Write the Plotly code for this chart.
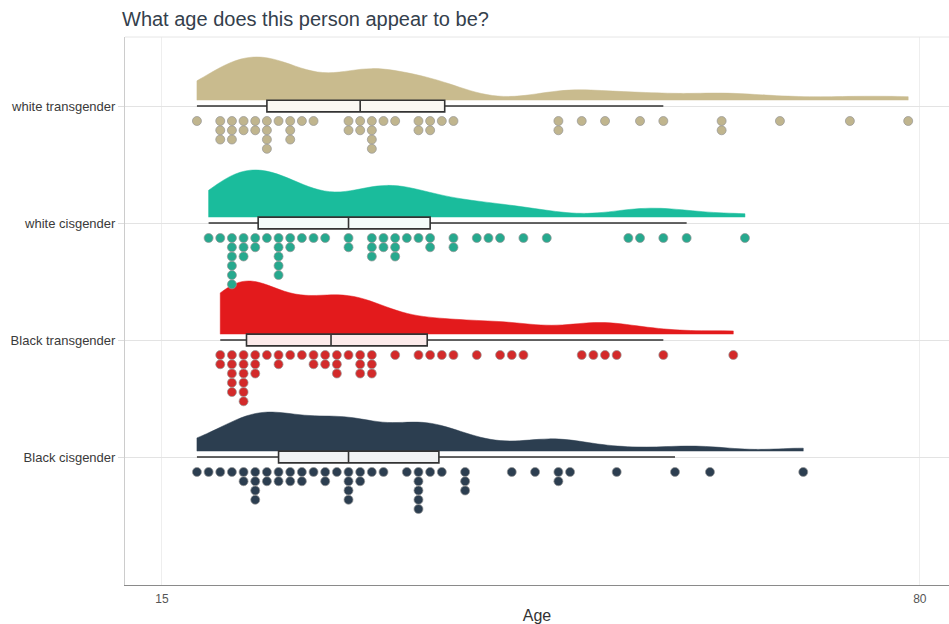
import numpy as np
import plotly.graph_objects as go

# Perceived-age responses (years), one entry per rating
white_transgender = [18, 20, 20, 20, 21, 21, 21, 22, 22, 23, 23, 24, 24, 24, 24, 25,
                     26, 26, 26, 27, 28, 31, 31, 32, 32, 33, 33, 33, 33, 34, 35,
                     37, 37, 38, 38, 39, 40, 49, 49, 51, 53, 56, 58, 63, 63, 68, 74, 79]
white_cisgender = [19, 20, 21, 21, 21, 21, 21, 21, 22, 22, 22, 23, 23, 24,
                   25, 25, 25, 25, 25, 26, 26, 27, 28, 29, 31, 31, 33, 33, 33,
                   34, 34, 35, 35, 35, 36, 37, 38, 38, 40, 40, 42, 43, 44, 46, 48,
                   55, 56, 58, 60, 65]
black_transgender = [20, 20, 21, 21, 21, 21, 21, 22, 22, 22, 22, 22, 22, 23, 23, 23,
                     24, 25, 25, 26, 27, 28, 28, 29, 29, 30, 30, 30, 31, 32, 32, 32,
                     33, 33, 33, 35, 37, 38, 39, 40, 42, 44, 45, 46, 51, 52, 53, 54,
                     58, 64]
black_cisgender = [18, 19, 20, 21, 22, 22, 23, 23, 23, 23, 24, 24, 25, 25, 26, 26,
                   27, 27, 28, 29, 29, 30, 31, 31, 31, 31, 32, 32, 33, 34, 36,
                   37, 37, 37, 37, 37, 38, 39, 41, 41, 41, 45, 47, 49, 49, 50,
                   54, 59, 62, 70]

group_labels = ["Black cisgender", "Black transgender", "white cisgender", "white transgender"]
group_data = [black_cisgender, black_transgender, white_cisgender, white_transgender]
x_ticks = [15, 80]

# styling per group (same order as group_labels)
cloud_colors = ["#2C3E50", "#E31A1C", "#1ABC9C", "#C9BB8E"]
dot_colors = ["#2C3E50", "#D32A2A", "#26A98E", "#C0B58E"]
box_fills = ["#F1F2F3", "#FCEBEB", "#F3FBF9", "#FAF8F3"]
cloud_height_px = [39, 53, 47, 43]

PX_PER_UNIT = 117.0
CLOUD_LIFT = 0.05
BOX_WIDTH = 0.10
DOT_DROP = 0.128
DOT_STEP = 0.0792
BW_ADJUST = 0.6


def nrd0(values):
    v = np.asarray(values, dtype=float)
    q1, q3 = np.percentile(v, [25, 75])
    spread = min(v.std(ddof=1), (q3 - q1) / 1.34)
    return 0.9 * spread * len(v) ** -0.2


def box_stats(values):
    v = np.sort(np.asarray(values, dtype=float))
    q1, med, q3 = np.percentile(v, [25, 50, 75])
    iqr = q3 - q1
    lo = v[v >= q1 - 1.5 * iqr].min()
    hi = v[v <= q3 + 1.5 * iqr].max()
    return q1, med, q3, lo, hi


fig = go.Figure()

for pos, (label, ages) in enumerate(zip(group_labels, group_data), start=1):
    i = pos - 1
    # half-violin density cloud above the box
    fig.add_trace(go.Violin(
        x=ages, y0=pos + CLOUD_LIFT, orientation="h", side="positive",
        width=2 * cloud_height_px[i] / PX_PER_UNIT, spanmode="hard",
        bandwidth=BW_ADJUST * nrd0(ages), scalemode="width", points=False,
        box_visible=False, meanline_visible=False,
        fillcolor=cloud_colors[i], line=dict(color=cloud_colors[i], width=0.5),
        opacity=1, hoverinfo="skip", showlegend=False, name=label,
    ))

    # boxplot (whiskers to most extreme value within 1.5 IQR)
    q1, med, q3, lo, hi = box_stats(ages)
    fig.add_trace(go.Box(
        y=[pos], q1=[q1], median=[med], q3=[q3], lowerfence=[lo], upperfence=[hi],
        orientation="h", width=BOX_WIDTH, whiskerwidth=0,
        fillcolor=box_fills[i], line=dict(color="#333333", width=1.6),
        hoverinfo="skip", showlegend=False, name=label,
    ))

    # stacked dot plot below the box
    xs, ys = [], []
    seen = {}
    for a in sorted(ages):
        k = seen.get(a, 0)
        seen[a] = k + 1
        xs.append(a)
        ys.append(pos - DOT_DROP - k * DOT_STEP)
    fig.add_trace(go.Scatter(
        x=xs, y=ys, mode="markers",
        marker=dict(size=9, color=dot_colors[i],
                    line=dict(color="rgba(150,150,150,0.7)", width=1)),
        hoverinfo="skip", showlegend=False, name=label,
    ))

fig.update_layout(
    width=949, height=624,
    margin=dict(l=125, r=0, t=37, b=39, autoexpand=False),
    paper_bgcolor="white", plot_bgcolor="white",
    font=dict(family="Liberation Sans, Arial, sans-serif", color="#333333"),
    title=dict(text="What age does this person appear to be?",
               x=122 / 949, xanchor="left", xref="container",
               y=1 - 19 / 624, yanchor="middle", yref="container",
               font=dict(size=20, color="#34404c")),
    boxmode="overlay", violinmode="overlay",
    xaxis=dict(
        range=[11.83, 82.5], tickvals=x_ticks, ticktext=[str(t) for t in x_ticks],
        showgrid=True, gridcolor="#eeeeee", gridwidth=1, zeroline=False,
        showline=True, linecolor="#8a8a8a", linewidth=1, automargin=False,
        ticks="outside", ticklen=3, tickcolor="rgba(0,0,0,0)",
        tickfont=dict(size=12, color="#555555"),
        title=dict(text="Age", font=dict(size=16, color="#333333"), standoff=9),
    ),
    yaxis=dict(
        range=[-0.094, 4.59], tickvals=[1, 2, 3, 4], ticktext=group_labels,
        showgrid=True, gridcolor="#e3e3e3", gridwidth=1, zeroline=False,
        showline=True, linecolor="#cccccc", linewidth=1, automargin=False,
        ticks="outside", ticklen=6, tickcolor="#dddddd",
        tickfont=dict(size=13, color="#3a3a3a"),
    ),
    shapes=[dict(type="line", xref="paper", yref="paper", x0=0, x1=1, y0=1, y1=1,
                 line=dict(color="#e6e6e6", width=1))],
)

fig.write_html("out.html")
